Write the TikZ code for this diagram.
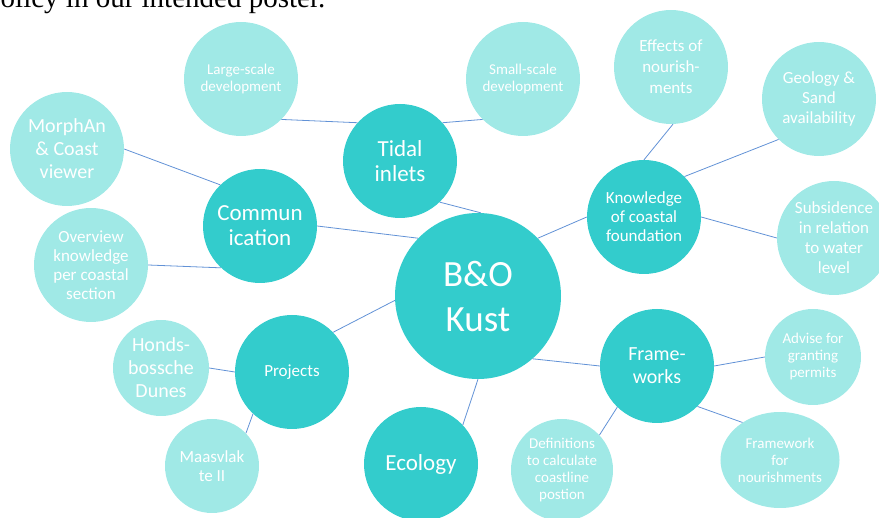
\documentclass[tikz,border=0pt]{standalone}
\usepackage{fontspec}
\setmainfont{Carlito}
\newfontfamily\bodyserif{Liberation Serif}
\usepackage{xcolor}
\usepackage{tikz}
\usetikzlibrary{shapes.geometric}

\definecolor{hubteal}{RGB}{51,204,204}
\definecolor{leafteal}{RGB}{160,233,230}
\definecolor{linkblue}{RGB}{98,146,214}

\tikzset{
    hub/.style={circle, fill=hubteal, text=white, inner sep=0pt, minimum size=114pt, align=center},
    leaf/.style={circle, fill=leafteal, text=white, inner sep=0pt, minimum size=114pt, align=center},
    link/.style={draw=linkblue, line width=0.8pt}
}
\newcommand{\fs}[2]{\fontsize{#1}{#2}\selectfont}

\begin{document}
\begin{tikzpicture}[x=1pt, y=-1pt]
        \useasboundingbox (0,0) rectangle (879,518);
        \clip (0,0) rectangle (879,518);

        % Text line above the picture
        \node[anchor=base west, inner sep=0pt, font=\bodyserif\fs{29}{31}] (caption) at (-14,7.5) {policy in our intended poster.};

        % Centre
        \node[hub, minimum size=166pt, font=\fs{37}{45}] (kust) at (478,296) {B\&O\\Kust};

        % Main themes
        \node[hub, font=\fs{23}{25}] (tidal) at (400,161) {Tidal\\inlets};
        \node[hub, font=\fs{23}{25}] (comm) at (260,226) {Commun\\ication};
        \node[hub, font=\fs{17}{19}] (know) at (644,217) {Knowledge\\of coastal\\foundation};
        \node[hub, font=\fs{20}{23}] (frame) at (657,366) {Frame-\\works};
        \node[hub, font=\fs{17}{19}] (proj) at (292,372) {Projects};
        \node[hub, font=\fs{23}{25}] (eco) at (421,464) {Ecology};

        % Sub themes
        \node[leaf, font=\fs{15}{17}] (large) at (241,79) {Large-scale\\development};
        \node[leaf, font=\fs{15}{17}] (small) at (523,79) {Small-scale\\development};
        \node[leaf, font=\fs{20}{23}] (morph) at (67,149) {MorphAn\\\& Coast\\viewer};
        \node[leaf, font=\fs{17}{19}] (overview) at (91,265) {Overview\\knowledge\\per coastal\\section};
        \node[leaf, font=\fs{17}{21}] (effects) at (671,67) {Effects of\\nourish-\\ments};
        \node[leaf, font=\fs{17}{20}] (geology) at (819,99) {Geology \&\\Sand\\availability};
        \node[leaf, font=\fs{17}{20}] (subsid) at (834,238) {Subsidence\\in relation\\to water\\level};
        \node[leaf, minimum size=96pt, font=\fs{15}{17}] (advise) at (813,357) {Advise for\\granting\\permits};
        \node[leaf, ellipse, minimum width=115pt, minimum height=96pt, font=\fs{15}{17}] (nourish) at (780,460) {Framework\\for\\nourishments};
        \node[leaf, minimum size=102pt, font=\fs{15}{17}] (defin) at (562,470) {Definitions\\to calculate\\coastline\\postion};
        \node[leaf, minimum size=96pt, font=\fs{20}{23}] (honds) at (161,368) {Honds-\\bossche\\Dunes};
        \node[leaf, minimum size=94pt, font=\fs{17}{19}] (maas) at (212,466) {Maasvlak\\te II};

        % Connectors
        \draw[link] (large.-45) -- (tidal.138);
        \draw[link] (small.-135) -- (tidal.42);
        \draw[link] (tidal.-46) -- (kust.88);
        \draw[link] (morph.0) -- (comm.134);
        \draw[link] (overview.0) -- (comm.-133);
        \draw[link] (comm.0) -- (kust.136);
        \draw[link] (proj.44) -- (kust.183);
        \draw[link] (honds.0) -- (proj.180);
        \draw[link] (maas.44) -- (proj.-133);
        \draw[link] (eco.43) -- (kust.-90);
        \draw[link] (kust.44) -- (know.180);
        \draw[link] (effects.-88) -- (know.90);
        \draw[link] (geology.-135) -- (know.45);
        \draw[link] (know.0) -- (subsid.180);
        \draw[link] (kust.-49) -- (frame.180);
        \draw[link] (frame.0) -- (advise.180);
        \draw[link] (frame.-45) -- (nourish.135);
        \draw[link] (frame.-134) -- (defin.43);
    \end{tikzpicture}
\end{document}
